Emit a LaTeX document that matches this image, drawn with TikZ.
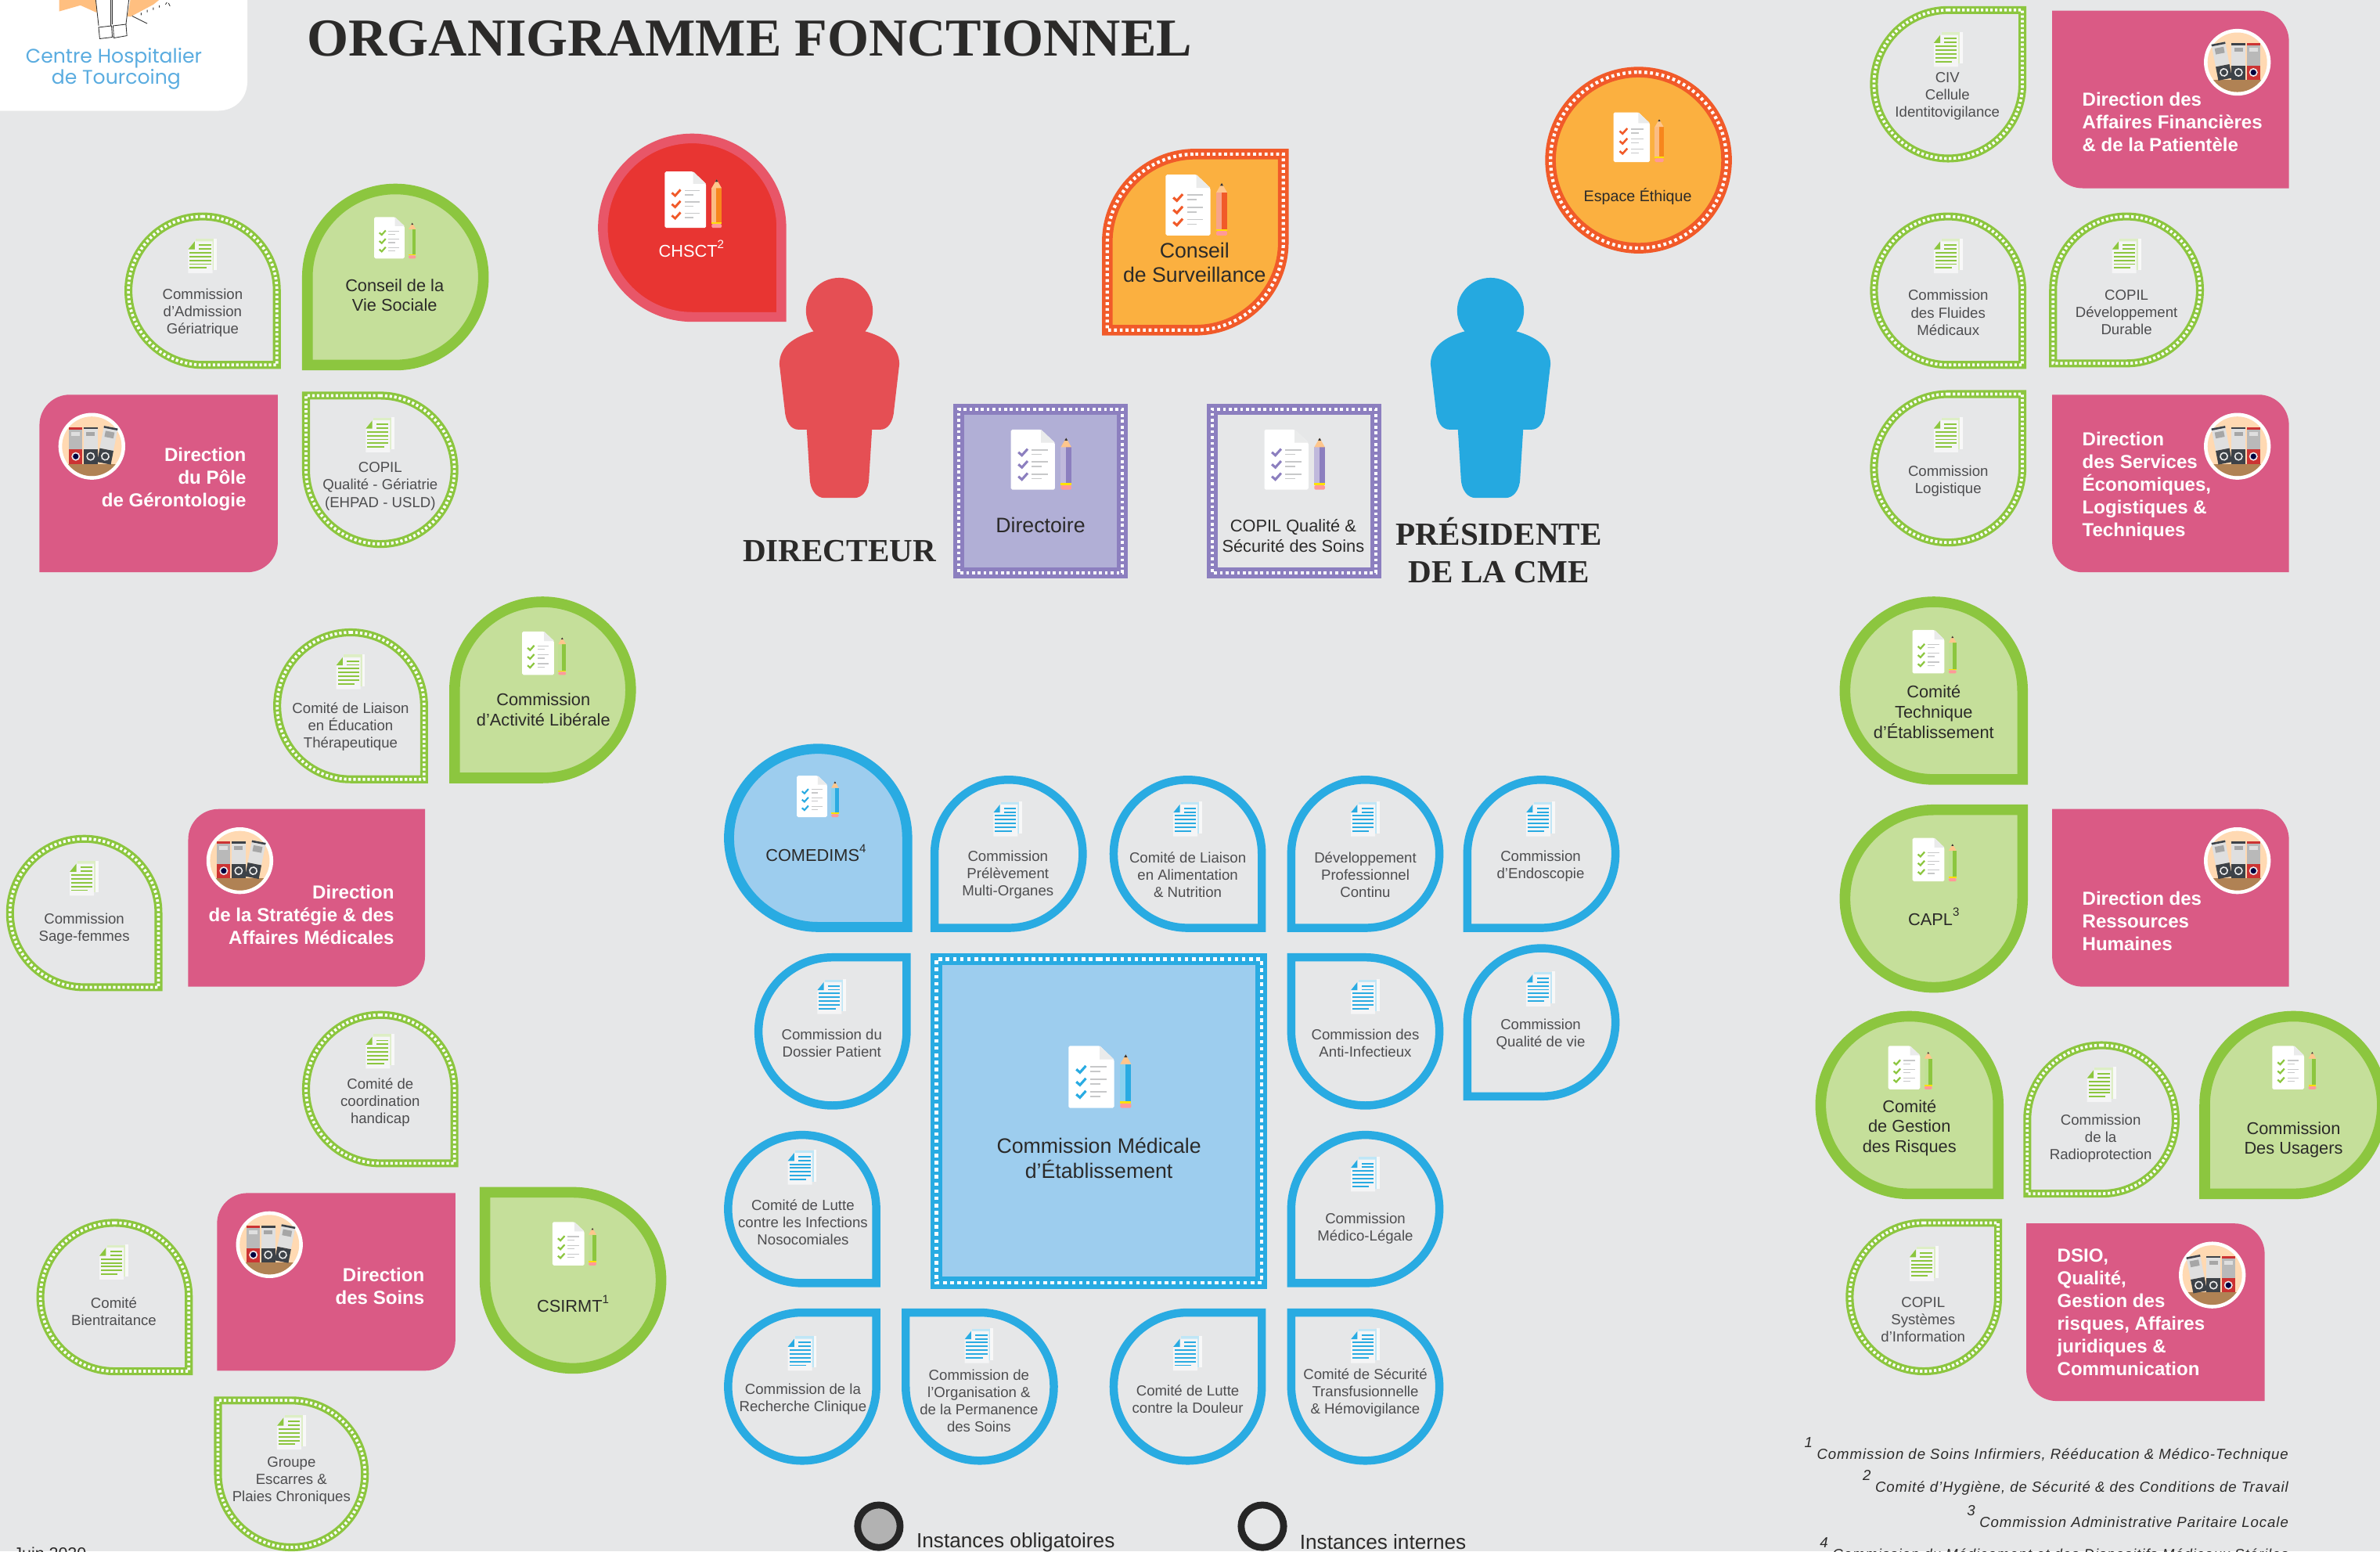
\documentclass[tikz,border=0pt]{standalone}
\usepackage{fontspec}
\setmainfont{Liberation Sans}
\newfontfamily\titlefont{Liberation Serif}[Ligatures=TeX]
\newfontfamily\logofont{Poppins}
\newfontfamily\fnfont{Liberation Sans}[LetterSpace=5]
\definecolor{bg}{HTML}{E6E7E8}
\definecolor{gband}{HTML}{8CC63F}
\definecolor{gfillc}{HTML}{C5DF9A}
\definecolor{bband}{HTML}{29ABE2}
\definecolor{bfillc}{HTML}{9DCDEE}
\definecolor{pband}{HTML}{8C7FBF}
\definecolor{pfillc}{HTML}{B1AFD6}
\definecolor{rband}{HTML}{E85668}
\definecolor{rfillc}{HTML}{E83532}
\definecolor{oband}{HTML}{F15A29}
\definecolor{ofillc}{HTML}{FBB040}
\definecolor{pencilor}{HTML}{F7861D}
\definecolor{pinkc}{HTML}{DA5A85}
\definecolor{txtgray}{HTML}{4D4D4F}
\definecolor{txtdark}{HTML}{2B2A29}
\definecolor{logoblue}{HTML}{5AACE0}
\definecolor{personred}{HTML}{E54F54}
\definecolor{personblue}{HTML}{25A9E0}
% looks: name, band width (picture units), band colour, fill colour
\newcommand\deflook[4]{%
  \expandafter\def\csname bw#1\endcsname{#2}%
  \tikzset{#1/.style={draw=#3,fill=#4,line width=#2*0.5518pt,line join=miter,miter limit=10}}}
\deflook{gdot}{5.2}{gband}{none}
\deflook{gfull}{7}{gband}{gfillc}
\deflook{bline}{5.4}{bband}{none}
\deflook{bfull}{6.6}{bband}{bfillc}
\deflook{bdot}{7.8}{bband}{bfillc}
\deflook{pdot}{7.2}{pband}{pfillc}
\deflook{pout}{7.2}{pband}{none}
\deflook{rfull}{6.4}{rband}{rfillc}
\deflook{odot}{7}{oband}{ofillc}
\deflook{pinkb}{0}{none}{pinkc}
\tikzset{
  whitedots1/.style={draw=white,fill=none,line width=1.05pt,dash pattern=on .9pt off .8pt},
  whitedots2/.style={draw=white,fill=none,line width=1.3pt,dash pattern=on 1.3pt off 1.3pt},
  whitedots3/.style={draw=white,fill=none,line width=1.2pt,dash pattern=on 1.05pt off 1.05pt},
  labS/.style={font=\fontsize{5.3}{6.3}\selectfont,text=txtgray,align=center,inner sep=0pt,yshift=-.5pt},
  labM/.style={font=\fontsize{6.2}{7.3}\selectfont,text=txtdark,align=center,inner sep=0pt},
  labL/.style={font=\fontsize{7.6}{9}\selectfont,text=txtdark,align=center,inner sep=0pt},
  labP/.style={font=\fontsize{6.85}{8.25}\selectfont\bfseries,text=white,inner sep=0pt},
  labT/.style={font=\fontsize{11.7}{13.8}\selectfont\titlefont\bfseries,text=txtdark,align=center,inner sep=0pt},
  labF/.style={font=\fontsize{5.3}{6}\selectfont\fnfont\itshape,text=txtdark,inner sep=0pt,anchor=east},
  labLeg/.style={font=\fontsize{7.45}{8}\selectfont,text=txtdark,inner sep=0pt,anchor=west},
}
\newcommand\sq[1]{\raisebox{.52em}{\fontsize{4.3}{4.3}\selectfont #1}}
\newcommand\fnn[1]{\raisebox{.8em}{#1}\hspace{1.6pt}}
\def\cfg#1#2#3#4{\def\fA{#1}\def\fB{#2}\def\fC{#3}\def\fD{#4}}
\expandafter\def\csname csTL\endcsname{\cfg0111}
\expandafter\def\csname csTR\endcsname{\cfg1011}
\expandafter\def\csname csBR\endcsname{\cfg1101}
\expandafter\def\csname csBL\endcsname{\cfg1110}
\expandafter\def\csname cTLBR\endcsname{\cfg1010}
\expandafter\def\csname cTRBL\endcsname{\cfg0101}
\expandafter\def\csname call\endcsname{\cfg1111}
\expandafter\def\csname cnone\endcsname{\cfg0000}
% #1 look #2 dots(0 none, 1/2/3 dot style) #3-#6 outer box #7 radius #8 corner code
\newcommand\shp[8]{%
  \pgfmathsetmacro\hw{\csname bw#1\endcsname/2}%
  \pgfmathsetmacro\Xa{#3+\hw}\pgfmathsetmacro\Ya{#4+\hw}%
  \pgfmathsetmacro\Xb{#5-\hw}\pgfmathsetmacro\Yb{#6-\hw}%
  \pgfmathsetmacro\Rr{#7-\hw}%
  \csname c#8\endcsname
  \pgfmathsetmacro\RA{\fA*\Rr}\pgfmathsetmacro\RB{\fB*\Rr}%
  \pgfmathsetmacro\RC{\fC*\Rr}\pgfmathsetmacro\RD{\fD*\Rr}%
  \ifdim\RB pt>0pt \def\segTR{-- ({\Xb-\RB},\Ya) .. controls ({\Xb-.4477*\RB},\Ya) and (\Xb,{\Ya+.4477*\RB}) .. (\Xb,{\Ya+\RB})}\else\def\segTR{-- (\Xb,\Ya)}\fi
  \ifdim\RC pt>0pt \def\segBR{-- (\Xb,{\Yb-\RC}) .. controls (\Xb,{\Yb-.4477*\RC}) and ({\Xb-.4477*\RC},\Yb) .. ({\Xb-\RC},\Yb)}\else\def\segBR{-- (\Xb,\Yb)}\fi
  \ifdim\RD pt>0pt \def\segBL{-- ({\Xa+\RD},\Yb) .. controls ({\Xa+.4477*\RD},\Yb) and (\Xa,{\Yb-.4477*\RD}) .. (\Xa,{\Yb-\RD})}\else\def\segBL{-- (\Xa,\Yb)}\fi
  \ifdim\RA pt>0pt \def\segTL{-- (\Xa,{\Ya+\RA}) .. controls (\Xa,{\Ya+.4477*\RA}) and ({\Xa+.4477*\RA},\Ya) .. ({\Xa+\RA},\Ya)}\else\def\segTL{-- (\Xa,\Ya)}\fi
  \path[#1] ({(\Xa+\Xb)/2},\Ya) \segTR \segBR \segBL \segTL -- cycle;
  \ifnum#2>0 \path[whitedots#2] ({(\Xa+\Xb)/2},\Ya) \segTR \segBR \segBL \segTL -- cycle;\fi
}
% #1 look #2 dots #3 x0 #4 y0 #5 diameter #6 corner
\newcommand\teardrop[6]{\shp{#1}{#2}{#3}{#4}{#3+#5}{#4+#5}{#5/2}{#6}}
% document + pencil: x y scale check colour, pencil colour
\newcommand\docpenc[5]{%
  \begin{scope}[shift={(#1,#2)},scale=#3]
    \fill[white,rounded corners=.5pt] (0,0) -- (13.7,0) -- (20,6) -- (20,27.3) -- (0,27.3) -- cycle;
    \fill[bg!85!white] (13.7,0) -- (20,6) -- (13.7,6) -- cycle;
    \foreach \yy in {10.3,15.8,21.3}{
      \fill[bg!70!gray] (9.5,\yy-1.4) rectangle (16.7,\yy-.8);
      \fill[bg!70!gray] (9.5,\yy+.7) rectangle (14,\yy+1.3);
      \draw[#4,line width=#3*0.6pt] (3.4,\yy) -- (5,\yy+1.4) -- (7.6,\yy-1.5);
    }
    \fill[#5!55!white] (22.7,8) rectangle (25,24.4);
    \fill[#5] (25,8) rectangle (27.5,24.4);
    \fill[orange!45!white] (22.7,8) -- (25.1,3.8) -- (27.5,8) -- cycle;
    \fill[black!80] (24.4,5) -- (25.1,3.8) -- (25.8,5) -- cycle;
    \fill[yellow!85!orange] (22.7,24.4) rectangle (27.5,25.3);
    \fill[red!40!white,rounded corners=.4pt] (22.7,25.3) rectangle (27.5,27.3);
  \end{scope}}
\newcommand\docpen[4]{\docpenc{#1}{#2}{#3}{#4}{#4}}
% small document: x y colour
\newcommand\docsmall[3]{%
  \begin{scope}[shift={(#1,#2)}]
    \fill[#3!30!white] (5,0.3) rectangle (17,21);
    \fill[white!70!bg] (17,0) rectangle (19,21);
    \fill[white!60!bg] (0,7) -- (4.3,2) -- (16,2) -- (16,23) -- (0,23) -- cycle;
    \fill[#3] (0,7.3) -- (4.3,2) -- (4.3,7.3) -- cycle;
    \foreach \yy in {4,6.5}{\fill[#3] (7,\yy) rectangle (15,\yy+1);}
    \foreach \yy in {9,11.5,14,16.5}{\fill[#3] (1,\yy) rectangle (15,\yy+1);}
    \fill[#3] (1,19) rectangle (12,20);
  \end{scope}}
% binder icon: cx cy xscale(+1 / -1)
\newcommand\binders[3]{%
  \begin{scope}[shift={(#1,#2)},xscale=#3]
    \fill[white] (0,0) circle[radius=22];
    \begin{scope}
      \clip (0,0) circle[radius=19.6];
      \fill[orange!30!white] (-22,-22) rectangle (22,22);
      \fill[brown!85!black!85!white] (-22,11.5) rectangle (22,22);
    \end{scope}
    \fill[gray!55!white] (-15,-12.7) rectangle (-6.2,2.2);
    \fill[red!60!gray] (-15,-12.7) rectangle (-6.2,-11);
    \fill[red!60!gray] (-15,2.2) rectangle (-6.2,11.5);
    \fill[white!75!gray] (-13.5,-9.5) rectangle (-7.7,-7);
    \draw[white!85!gray,fill=black!75!blue,line width=.45pt] (-10.6,6.7) circle[radius=2.4];
    \fill[white!75!gray] (-5.5,-12.7) rectangle (3.8,2.2);
    \fill[black!70!cyan!60!black] (-5.5,-12.7) rectangle (3.8,-11.2);
    \fill[black!70!cyan!60!black] (-5.5,2.2) rectangle (3.8,11.5);
    \fill[gray!70!white] (-3.8,-9.5) rectangle (2,-7);
    \draw[white!85!gray,line width=.45pt] (-.8,6.7) circle[radius=2.4];
    \begin{scope}[shift={(10.3,-.8)},rotate=-11]
      \fill[white!75!gray] (-4.6,-12) rectangle (4.6,3);
      \fill[black!70!cyan!60!black] (-4.6,-12) rectangle (4.6,-10.7);
      \fill[black!70!cyan!60!black] (-4.6,3) rectangle (4.6,12.2);
      \fill[gray!70!white] (-3,-9) rectangle (3,-5);
      \draw[white!85!gray,line width=.45pt] (0,7.6) circle[radius=2.4];
    \end{scope}
  \end{scope}}
\newcommand\person[2]{%
  \begin{scope}[shift={(#1,0)}]
    \fill[#2] (0,204.6) ellipse[x radius=22,y radius=21.6];
    \fill[#2] (-16,218) .. controls (-31,222) and (-39.5,229) .. (-39.5,240) -- (-36,270)
      .. controls (-35.5,278) and (-32,283) .. (-27,283) -- (-21.5,283) -- (-19.5,315)
      .. controls (-19.3,323) and (-15,328) .. (-10,328) -- (10,328)
      .. controls (15,328) and (19.3,323) .. (19.5,315) -- (21.5,283) -- (27,283)
      .. controls (32,283) and (35.5,278) .. (36,270) -- (39.5,240)
      .. controls (39.5,229) and (31,222) .. (16,218) -- cycle;
  \end{scope}}
\newcommand\lbl[5]{\node[#4] (#1) at (#2,#3) {#5};}
\begin{document}
\begin{tikzpicture}[x=0.019394cm,y=-0.019394cm]
\useasboundingbox (0,0) rectangle (1568,1022);
\clip (0,0) rectangle (1568,1022);
\fill[bg] (0,0) rectangle (1568,1022);

% logo
\fill[white] (-20,-20) -- (163,-20) -- (163,53) .. controls (163,65) and (155,73) .. (143,73) -- (-20,73) -- cycle;
\fill[orange!50!white] (39,-1) -- (39,7.5) -- (53,3.5) -- (63,8) -- (86,11) -- (101,3) -- (106,-1) -- cycle;
\fill[white] (63,-1) -- (65,17) -- (65,25.5) -- (83,24) -- (83,16) -- (86,-1) -- cycle;
\draw[black!80,line width=.25pt] (63,-1) -- (65,17) (73,-1) -- (73,17) (74,-1) -- (74,16) (85,-1) -- (83,16);
\draw[black!80,line width=.25pt] (65,18) -- (73.5,17) -- (74,24.5) -- (65.7,25.5) -- cycle;
\draw[black!80,line width=.25pt] (74.5,17) -- (83,16) -- (83.6,23.5) -- (75,25) -- cycle;
\draw[black!80,line width=.25pt] (87,10.5) -- (97,15.5);
\draw[black!80,line width=.25pt] (93,10) -- (93,8.5) (97,8) -- (97,6.5) (101,6.5) -- (101,5) (105,5) -- (105,3.5) (109,3) -- (110,1.5) (111,2) -- (112,4);
\node[font=\fontsize{7.15}{7}\selectfont\logofont,text=logoblue,inner sep=0pt] (logoa) at (75,38.5) {Centre Hospitalier};
\node[font=\fontsize{7.15}{7}\selectfont\logofont,text=logoblue,inner sep=0pt] (logob) at (76.5,52) {de Tourcoing};

% title
\node[font=\fontsize{19.4}{20}\selectfont\titlefont\bfseries,text=txtdark,inner sep=0pt,anchor=base west] (title) at (202,37) {ORGANIGRAMME FONCTIONNEL};

% left cluster top
\teardrop{gdot}{1}{82}{140}{103}{sBR}
\docsmall{124}{157}{gband}
\lbl{adm}{133.5}{205}{labS}{Commission\\d’Admission\\Gériatrique}
\teardrop{gfull}{0}{199}{121}{123}{sBL}
\docpen{246.5}{143}{1}{gband}
\lbl{cvs}{260}{194.5}{labM}{Conseil de la\\Vie Sociale}
\shp{pinkb}{0}{26}{260}{183}{377}{20}{TLBR}
\binders{60.5}{294}{1}
\lbl{pole}{162.5}{315.5}{labP,anchor=east,align=right}{Direction\\du Pôle\\de Gérontologie}
\teardrop{gdot}{1}{199}{258}{103}{sTL}
\docsmall{241}{275}{gband}
\lbl{copger}{250.5}{319.5}{labS}{COPIL\\Qualité - Gériatrie\\(EHPAD - USLD)}

% centre top
\teardrop{rfull}{0}{394}{88}{124}{sBR}
\docpenc{438}{113}{1.36}{oband}{pencilor}
\lbl{chsct}{455.5}{164}{labM,text=white}{CHSCT\sq{2}}
\person{553}{personred}
\lbl{dir}{553}{363}{labT}{DIRECTEUR}
\shp{pdot}{3}{628}{266}{743}{381}{0}{none}
\docpen{666}{283}{1.45}{pband}
\lbl{directoire}{685.5}{346}{labL}{Directoire}
\shp{pout}{3}{795}{266}{910}{381}{0}{none}
\docpen{833}{283}{1.45}{pband}
\lbl{copq}{852}{353}{labM}{COPIL Qualité \&\\Sécurité des Soins}
\teardrop{odot}{3}{726}{98}{123}{TLBR}
\docpen{768}{115}{1.47}{oband}
\lbl{surv}{787}{173}{labL}{Conseil\\de Surveillance}
\person{982}{personblue}
\lbl{cmep}{987.5}{362.5}{labT}{PRÉSIDENTE\\DE LA CME}
\teardrop{odot}{3}{1018}{44}{123}{all}
\docpenc{1063}{74}{1.2}{oband}{pencilor}
\lbl{ethique}{1079}{129.5}{labM,font=\fontsize{5.6}{6.6}\selectfont}{Espace Éthique}

% right top
\teardrop{gdot}{1}{1232}{4}{103}{sTR}
\docsmall{1274}{21}{gband}
\lbl{civ}{1283}{62.5}{labS}{CIV\\Cellule\\Identitovigilance}
\shp{pinkb}{0}{1352}{7}{1508}{124}{20}{TRBL}
\binders{1474}{41}{-1}
\lbl{daf}{1371.5}{80.5}{labP,anchor=west,align=left}{Direction des\\Affaires Financières\\\& de la Patientèle}
\teardrop{gdot}{1}{1232}{140}{103}{sBR}
\docsmall{1274}{157}{gband}
\lbl{fluides}{1283.5}{205}{labS}{Commission\\des Fluides\\Médicaux}
\teardrop{gdot}{1}{1350}{140}{102}{sBL}
\docsmall{1391.5}{157}{gband}
\lbl{copdev}{1401}{205}{labS}{COPIL\\Développement\\Durable}
\teardrop{gdot}{1}{1232}{257}{103}{sTR}
\docsmall{1274}{275}{gband}
\lbl{logi}{1283.5}{316}{labS}{Commission\\Logistique}
\shp{pinkb}{0}{1352}{260}{1508}{377}{20}{TRBL}
\binders{1474}{294}{-1}
\lbl{dset}{1371.5}{320.5}{labP,anchor=west,align=left}{Direction\\des Services\\Économiques,\\Logistiques \&\\Techniques}

% right middle
\teardrop{gfull}{0}{1212}{393}{124}{sBR}
\docpen{1260}{415}{1.05}{gband}
\lbl{cte}{1274}{469}{labM}{Comité\\Technique\\d’Établissement}
\teardrop{gfull}{0}{1212}{530}{124}{sTR}
\docpen{1260}{552}{1.05}{gband}
\lbl{capl}{1274}{604}{labM}{CAPL\sq{3}}
\shp{pinkb}{0}{1352}{533}{1508}{650}{20}{TRBL}
\binders{1474}{567}{-1}
\lbl{drh}{1371.5}{607}{labP,anchor=west,align=left}{Direction des\\Ressources\\Humaines}
\teardrop{gfull}{0}{1196}{666}{124}{sBR}
\docpen{1244}{689}{1.05}{gband}
\lbl{risques}{1258}{743}{labM}{Comité\\de Gestion\\des Risques}
\teardrop{gdot}{1}{1333}{686}{103}{sBL}
\docsmall{1375}{703}{gband}
\lbl{radio}{1384}{749}{labS}{Commission\\de la\\Radioprotection}
\teardrop{gfull}{0}{1449}{666}{124}{sBL}
\docpen{1497}{689}{1.05}{gband}
\lbl{usagers}{1511}{751}{labM}{Commission\\Des Usagers}
\teardrop{gdot}{1}{1216}{803}{103}{sTR}
\docsmall{1258}{821}{gband}
\lbl{copsys}{1267}{868.5}{labS}{COPIL\\Systèmes\\d’Information}
\shp{pinkb}{0}{1335}{806}{1492}{923}{20}{TRBL}
\binders{1457.5}{840}{-1}
\lbl{dsio}{1355}{864.5}{labP,anchor=west,align=left}{DSIO,\\Qualité,\\Gestion des\\risques, Affaires\\juridiques \&\\Communication}

% footnotes
\lbl{fn1}{1508}{955}{labF}{\fnn{1}Commission de Soins Infirmiers, Rééducation \& Médico-Technique}
\lbl{fn2}{1508}{977}{labF}{\fnn{2}Comité d’Hygiène, de Sécurité \& des Conditions de Travail}
\lbl{fn3}{1508}{999}{labF}{\fnn{3}Commission Administrative Paritaire Locale}
\lbl{fn4}{1508}{1021}{labF}{\fnn{4}Commission du Médicament et des Dispositifs Médicaux Stériles}

% left middle and bottom
\teardrop{gdot}{1}{180}{414}{102}{sBR}
\docsmall{221.5}{431}{gband}
\lbl{etp}{231}{478}{labS}{Comité de Liaison\\en Éducation\\Thérapeutique}
\teardrop{gfull}{0}{296}{393}{123}{sBL}
\docpen{344}{416}{1.05}{gband}
\lbl{lib}{358}{467.5}{labM}{Commission\\d’Activité Libérale}
\teardrop{gdot}{1}{4}{550}{103}{sBR}
\docsmall{46}{567}{gband}
\lbl{sage}{55.5}{611}{labS}{Commission\\Sage-femmes}
\shp{pinkb}{0}{124}{533}{280}{650}{20}{TLBR}
\binders{158}{567}{1}
\lbl{strat}{260}{602.5}{labP,anchor=east,align=right}{Direction\\de la Stratégie \& des\\Affaires Médicales}
\teardrop{gdot}{1}{199}{666}{103}{sBR}
\docsmall{241}{681}{gband}
\lbl{hand}{250.5}{725.5}{labS}{Comité de\\coordination\\handicap}
\teardrop{gdot}{1}{24}{803}{103}{sBR}
\docsmall{65.5}{820}{gband}
\lbl{bien}{75}{863}{labS}{Comité\\Bientraitance}
\shp{pinkb}{0}{143}{786}{300}{903}{20}{TLBR}
\binders{177.5}{820}{1}
\lbl{soins}{280}{847.5}{labP,anchor=east,align=right}{Direction\\des Soins}
\teardrop{gfull}{0}{316}{782}{123}{sTL}
\docpen{364}{805}{1.05}{gband}
\lbl{csirmt}{377.5}{859}{labM}{CSIRMT\sq{1}}
\teardrop{gdot}{1}{141}{920}{102}{sTL}
\docsmall{182.5}{932}{gband}
\lbl{esc}{192}{974.5}{labS}{Groupe\\Escarres \&\\Plaies Chroniques}

% CME cluster
\teardrop{bfull}{0}{477}{490}{124}{sBR}
\docpen{525}{511}{1}{bband}
\lbl{comedims}{537.5}{562}{labM}{COMEDIMS\sq{4}}
\teardrop{bline}{0}{613}{511}{103}{sBL}
\docsmall{654.5}{528}{bband}
\lbl{prel}{664}{575.5}{labS}{Commission\\Prélèvement\\Multi-Organes}
\teardrop{bline}{0}{731}{511}{103}{sBR}
\docsmall{773}{528}{bband}
\lbl{alim}{782.5}{575.5}{labS}{Comité de Liaison\\en Alimentation\\\& Nutrition}
\teardrop{bline}{0}{848}{511}{103}{sBL}
\docsmall{890}{528}{bband}
\lbl{dpc}{899.5}{575.5}{labS}{Développement\\Professionnel\\Continu}
\teardrop{bline}{0}{964}{511}{103}{sBL}
\docsmall{1005.5}{528}{bband}
\lbl{endo}{1015}{569.5}{labS}{Commission\\d’Endoscopie}
\teardrop{bline}{0}{497}{628}{103}{sTR}
\docsmall{538.5}{645}{bband}
\lbl{doss}{548}{686.5}{labS}{Commission du\\Dossier Patient}
\shp{bdot}{2}{613}{628}{835}{849}{0}{none}
\docpen{704}{689}{1.5}{bband}
\lbl{cme}{724}{763}{labL}{Commission Médicale\\d’Établissement}
\teardrop{bline}{0}{848}{628}{103}{sTL}
\docsmall{890}{645}{bband}
\lbl{anti}{899.5}{686.5}{labS}{Commission des\\Anti-Infectieux}
\teardrop{bline}{0}{964}{622}{103}{sBL}
\docsmall{1005.5}{640}{bband}
\lbl{qvie}{1015}{680.5}{labS}{Commission\\Qualité de vie}
\teardrop{bline}{0}{477}{745}{103}{sBR}
\docsmall{519}{757.5}{bband}
\lbl{noso}{529}{804.5}{labS}{Comité de Lutte\\contre les Infections\\Nosocomiales}
\teardrop{bline}{0}{848}{745}{103}{sBL}
\docsmall{890}{762}{bband}
\lbl{legale}{899.5}{808.5}{labS}{Commission\\Médico-Légale}
\teardrop{bline}{0}{477}{862}{103}{sTR}
\docsmall{519}{880}{bband}
\lbl{rech}{529}{921}{labS}{Commission de la\\Recherche Clinique}
\teardrop{bline}{0}{594}{862}{103}{sTL}
\docsmall{635.5}{875}{bband}
\lbl{orga}{645}{922}{labS}{Commission de\\l’Organisation \&\\de la Permanence\\des Soins}
\teardrop{bline}{0}{731}{862}{103}{sTR}
\docsmall{773}{880}{bband}
\lbl{dou}{782.5}{921}{labS}{Comité de Lutte\\contre la Douleur}
\teardrop{bline}{0}{848}{862}{103}{sTL}
\docsmall{890}{875}{bband}
\lbl{secu}{899.5}{916.5}{labS}{Comité de Sécurité\\Transfusionnelle\\\& Hémovigilance}

% legend
\draw[black!85,line width=2.5pt,fill=gray!60!white] (579,1005.5) circle[radius=14];
\lbl{legob}{603.5}{1016}{labLeg}{Instances obligatoires}
\draw[black!85,line width=2.5pt] (831.7,1005.5) circle[radius=14];
\lbl{legin}{856}{1016}{labLeg}{Instances internes}
\node[font=\fontsize{6.1}{7}\selectfont,text=txtdark,inner sep=0pt,anchor=base west] (date) at (8.6,1027.6) {Juin 2020};
\end{tikzpicture}
\end{document}
